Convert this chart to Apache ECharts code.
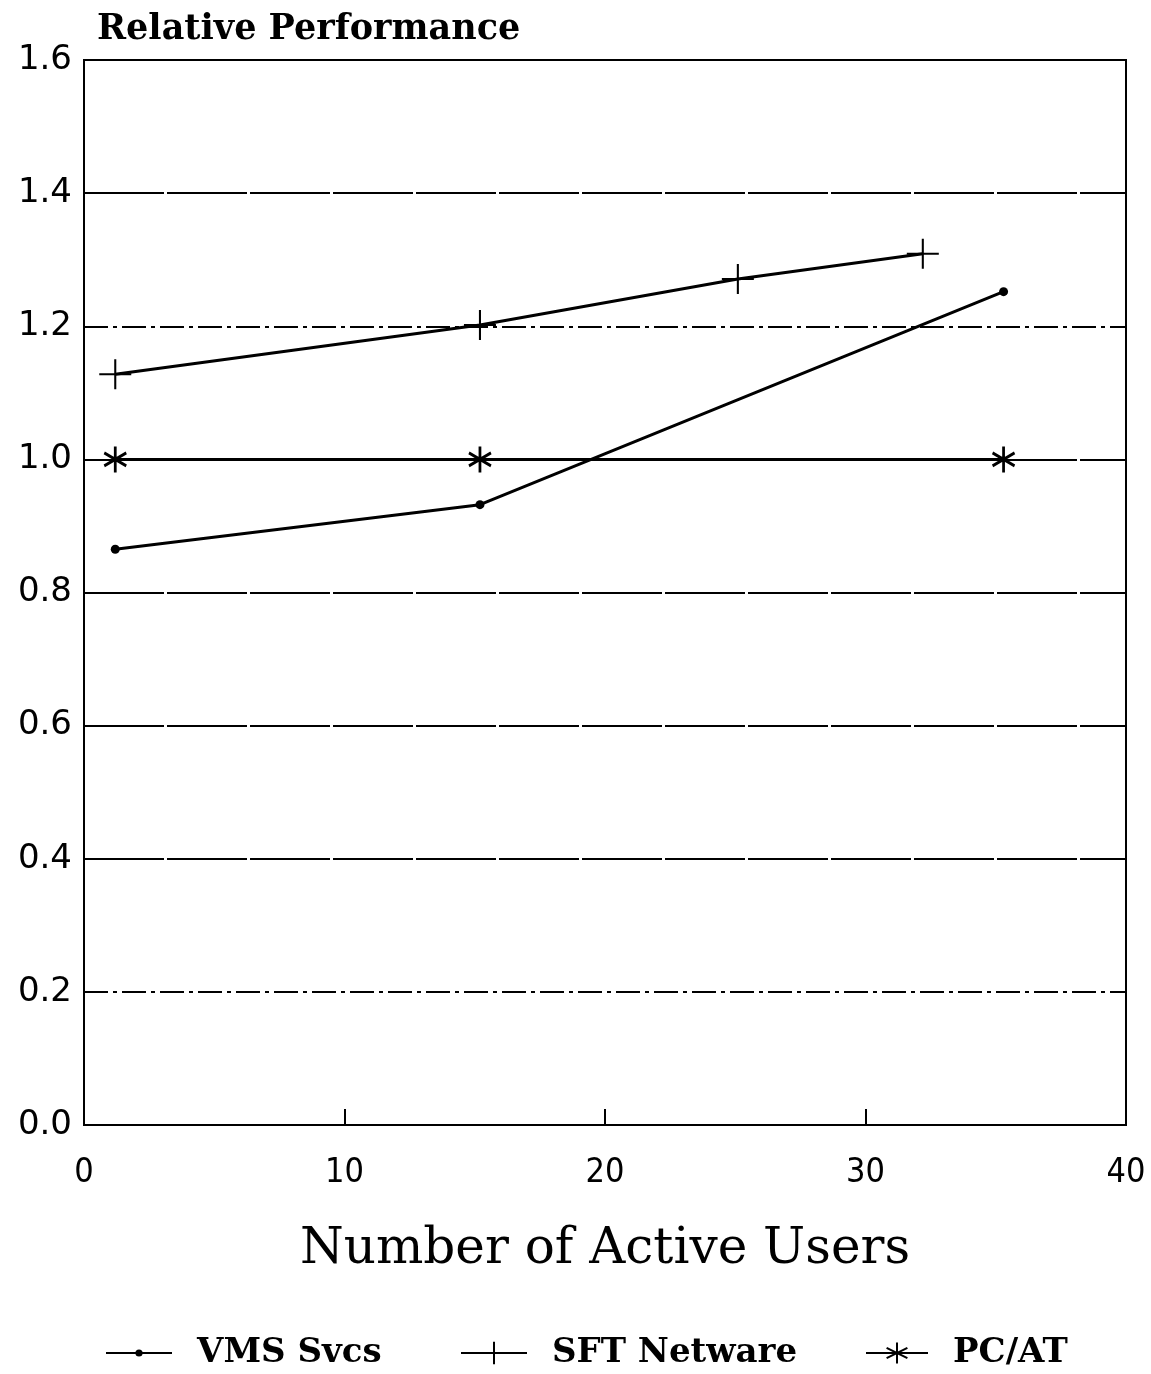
<!DOCTYPE html>
<html>
<head>
<meta charset="utf-8">
<script src="https://cdn.jsdelivr.net/npm/echarts@6/dist/echarts.min.js"></script>
<style>
  html, body { margin: 0; padding: 0; background: #fff; }
  #container { width: 1151px; height: 1374px; }
</style>
</head>
<body>
<div id="container"></div>
<script>
// 数据
var vmsUsers = [1.2, 15.2, 35.3];
var vmsPerf = [0.865, 0.932, 1.252];
var sftUsers = [1.2, 15.2, 25.1, 32.2];
var sftPerf = [1.128, 1.202, 1.271, 1.309];
var pcUsers = [1.2, 15.2, 35.3];
var pcPerf = [1.0, 1.0, 1.0];
// 网格线
var gridSolid = [0.4, 0.6, 0.8, 1.0, 1.4];
var gridDashDot = [0.2, 1.2];

function pairs(xs, ys) {
    var out = [];
    for (var i = 0; i < xs.length; i++) {
        out.push([xs[i], ys[i]]);
    }
    return out;
}

function gridLines(vals, type) {
    var out = [];
    for (var i = 0; i < vals.length; i++) {
        out.push({ yAxis: vals[i], lineStyle: { type: type } });
    }
    return out;
}

var plusPath = 'path://M0,-1L0,1M-1,0L1,0';
var starPath = 'path://M0,-1L0,1M-0.866,-0.5L0.866,0.5M-0.866,0.5L0.866,-0.5';

var legendText = {
    fontFamily: 'DejaVu Serif',
    fontWeight: 'bold',
    fontSize: 34,
    color: '#000',
    padding: [0, 0, 0, 20]
};

var dom = document.getElementById('container');
var myChart = echarts.init(dom);
var option = {
    backgroundColor: '#fff',
    animation: false,
    title: {
        text: 'Relative Performance',
        left: 92,
        top: 7,
        textStyle: {
            fontFamily: 'DejaVu Serif',
            fontWeight: 'bold',
            fontSize: 35,
            color: '#000'
        }
    },
    legend: [
        {
            data: ['VMS Svcs'], left: 100, top: 1331,
            itemWidth: 66, itemHeight: 9, textStyle: legendText
        },
        {
            data: ['SFT Netware'], left: 455, top: 1331,
            itemWidth: 66, itemHeight: 28, textStyle: legendText
        },
        {
            data: ['PC/AT'], left: 860, top: 1331,
            itemWidth: 62, itemHeight: 26, textStyle: legendText
        }
    ],
    grid: {
        left: 84,
        right: 25,
        top: 60,
        bottom: 249,
        show: true,
        borderColor: '#000',
        borderWidth: 2
    },
    xAxis: {
        type: 'value',
        min: 0,
        max: 40,
        interval: 10,
        name: 'Number of Active Users',
        nameLocation: 'middle',
        nameGap: 100,
        nameTextStyle: {
            fontFamily: 'DejaVu Serif',
            fontSize: 50,
            color: '#000'
        },
        axisLine: { show: true, lineStyle: { color: '#000', width: 2 } },
        axisTick: { show: true, inside: true, length: 16, lineStyle: { color: '#000', width: 2 } },
        splitLine: { show: false },
        axisLabel: {
            margin: 31,
            fontFamily: 'DejaVu Sans Condensed',
            fontSize: 34,
            color: '#000'
        }
    },
    yAxis: {
        type: 'value',
        min: 0,
        max: 1.6,
        interval: 0.2,
        axisLine: { show: true, lineStyle: { color: '#000', width: 2 } },
        axisTick: { show: false },
        splitLine: { show: false },
        axisLabel: {
            margin: 12,
            fontFamily: 'DejaVu Sans',
            fontSize: 34,
            color: '#000',
            formatter: function (v) { return v.toFixed(1); }
        }
    },
    series: [
        {
            name: 'VMS Svcs',
            type: 'line',
            data: pairs(vmsUsers, vmsPerf),
            symbol: 'circle',
            symbolSize: 9,
            lineStyle: { color: '#000', width: 3 },
            itemStyle: { color: '#000' },
            markLine: {
                silent: true,
                symbol: 'none',
                label: { show: false },
                lineStyle: { color: '#000', width: 2 },
                data: gridLines(gridSolid, [80, 3]).concat(gridLines(gridDashDot, [24, 5, 4, 5]))
            }
        },
        {
            name: 'SFT Netware',
            type: 'line',
            data: pairs(sftUsers, sftPerf),
            symbol: plusPath,
            symbolSize: [32, 30],
            lineStyle: { color: '#000', width: 3 },
            itemStyle: { color: '#000', borderColor: '#000', borderWidth: 2 }
        },
        {
            name: 'PC/AT',
            type: 'line',
            data: pairs(pcUsers, pcPerf),
            symbol: starPath,
            symbolSize: [22, 26],
            lineStyle: { color: '#000', width: 3 },
            itemStyle: { color: '#000', borderColor: '#000', borderWidth: 3 }
        }
    ]
};
myChart.setOption(option, true);
</script>
</body>
</html>
